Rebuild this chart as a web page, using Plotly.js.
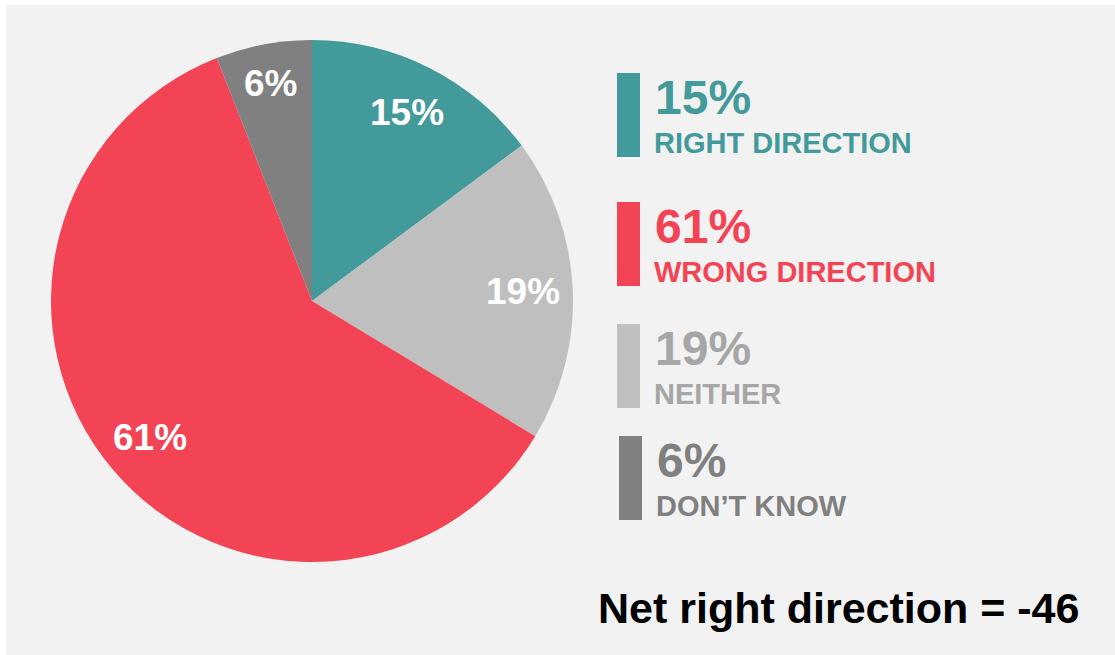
<!DOCTYPE html>
<html>
<head>
<meta charset="utf-8">
<script src="https://cdn.plot.ly/plotly-3.0.1.min.js"></script>
<style>
html,body{margin:0;padding:0;background:#ffffff;}
#chart{width:1115px;height:655px;}
</style>
</head>
<body>
<div id="chart"></div>
<script>
// Data
var categories = ["RIGHT DIRECTION", "NEITHER", "WRONG DIRECTION", "DON\u2019T KNOW"];
var values = [15, 19, 61, 6];
var sliceColors = ["#429a9a", "#bfbfbf", "#f24455", "#808080"];
// legend order (top to bottom) as indices into the arrays above
var legendOrder = [0, 2, 1, 3];
var legendTextColors = ["#429a9a", "#a6a6a6", "#f24455", "#808080"];
var netLabel = "Net right direction = -46";

var W = 1115, H = 655;
function px(x){ return x / W; }
function py(y){ return 1 - y / H; }

var font = "Liberation Sans, Arial, Helvetica, sans-serif";

// pie geometry (pixels)
var pieLeft = 51, pieRight = 573, pieTop = 40, pieBottom = 562;
var cx = (pieLeft + pieRight) / 2, cy = (pieTop + pieBottom) / 2;
var R = (pieRight - pieLeft) / 2;

var trace = {
  type: "pie",
  values: values,
  labels: categories,
  sort: false,
  direction: "clockwise",
  rotation: 0,
  marker: {colors: sliceColors, line: {width: 0}},
  textinfo: "none",
  hoverinfo: "none",
  showlegend: false,
  domain: {x: [px(pieLeft), px(pieRight)], y: [py(pieBottom), py(pieTop)]}
};

var shapes = [{
  type: "rect", xref: "paper", yref: "paper",
  x0: px(6), x1: 1, y0: 0, y1: py(5),
  fillcolor: "#f2f2f2", line: {width: 0}, layer: "below"
}];
var annotations = [];

// slice labels placed along each slice's mid-angle, derived from values
var total = values.reduce(function(a, b){ return a + b; }, 0);
var cum = 0;
values.forEach(function(v){
  var mid = (cum + v / 2) / total * 2 * Math.PI;
  cum += v;
  var rr = (v / total < 0.1 ? 0.85 : 0.81) * R;
  annotations.push({
    xref: "paper", yref: "paper",
    x: px(cx + rr * Math.sin(mid)), y: py(cy - rr * Math.cos(mid)),
    xanchor: "center", yanchor: "middle", showarrow: false,
    text: "<b>" + v + "%</b>",
    font: {family: font, size: 37, color: "#ffffff"}
  });
});

var barTops = [73, 202, 324, 436];
var barX = [617, 617, 617, 619];
legendOrder.forEach(function(idx, i){
  var top = barTops[i];
  shapes.push({
    type: "rect", xref: "paper", yref: "paper",
    x0: px(barX[i]), x1: px(barX[i] + 23), y0: py(top + 84), y1: py(top),
    fillcolor: sliceColors[idx], line: {width: 0}
  });
  annotations.push({
    xref: "paper", yref: "paper", x: px(barX[i] + 36), y: py(top - 4),
    xanchor: "left", yanchor: "top", showarrow: false,
    text: "<b>" + values[idx] + "%</b>",
    font: {family: font, size: 48, color: legendTextColors[idx]}
  });
  annotations.push({
    xref: "paper", yref: "paper", x: px(barX[i] + 35), y: py(top + 52),
    xanchor: "left", yanchor: "top", showarrow: false,
    text: "<b>" + categories[idx] + "</b>",
    font: {family: font, size: 29, color: legendTextColors[idx]}
  });
});

annotations.push({
  xref: "paper", yref: "paper", x: px(1081), y: py(608),
  xanchor: "right", yanchor: "middle", showarrow: false,
  text: "<b>" + netLabel + "</b>",
  font: {family: font, size: 43, color: "#000000"}
});

var layout = {
  width: W, height: H,
  margin: {l: 0, r: 0, t: 0, b: 0},
  paper_bgcolor: "#ffffff",
  plot_bgcolor: "rgba(0,0,0,0)",
  shapes: shapes,
  annotations: annotations,
  showlegend: false
};

Plotly.newPlot("chart", [trace], layout, {displayModeBar: false, staticPlot: true});
</script>
</body>
</html>
